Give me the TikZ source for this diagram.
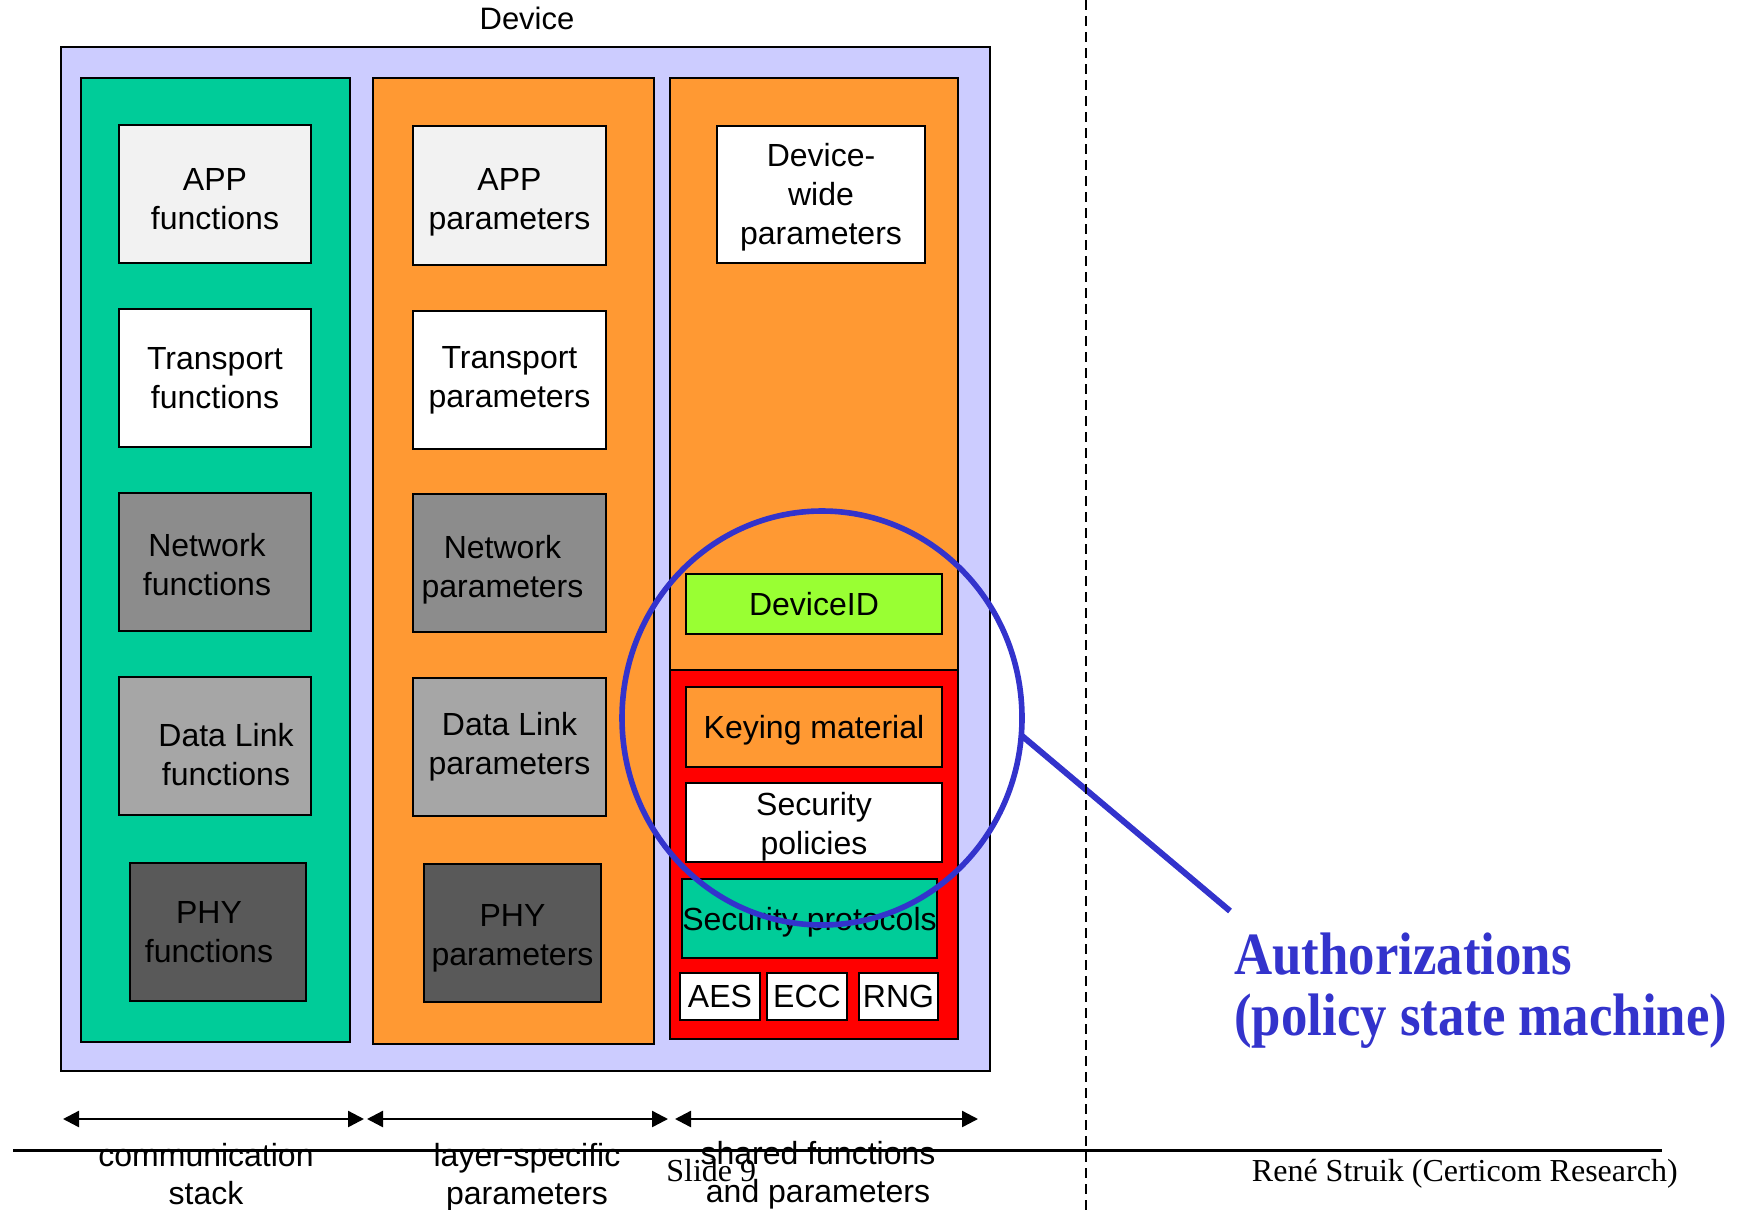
\documentclass[tikz,border=0pt]{standalone}
\usepackage{fontspec}
\setmainfont{Liberation Sans}
\newfontfamily\slidefont{Liberation Serif}
\newfontfamily\notefont[FakeStretch=0.88]{Liberation Serif}
\usetikzlibrary{arrows.meta}

\definecolor{devlav}{HTML}{CCCCFF}
\definecolor{stackgreen}{HTML}{00CC99}
\definecolor{parorange}{HTML}{FF9933}
\definecolor{idgreen}{HTML}{99FF33}
\definecolor{secred}{HTML}{FF0000}
\definecolor{ringblue}{HTML}{3333CC}
\definecolor{appgray}{HTML}{F2F2F2}
\definecolor{netgray}{HTML}{8C8C8C}
\definecolor{linkgray}{HTML}{A6A6A6}
\definecolor{phygray}{HTML}{595959}

% taller first line, so the text sits lower in its box
\newcommand\dropby[1]{\rule{0pt}{\dimexpr 12pt+#1\relax}}

\begin{document}
\begin{tikzpicture}[x=0.5pt, y=-0.5pt,
    blk/.style={draw, line width=1pt, inner sep=0pt, align=center,
        font=\fontsize{16}{19.5}\selectfont},
    col/.style={draw, line width=1pt, inner sep=0pt},
    spanarrow/.style={{Triangle[length=8pt,width=8pt]}-{Triangle[length=8pt,width=8pt]}, line width=1.2pt},
    lbl/.style={align=center, inner sep=0pt, anchor=north,
        font=\fontsize{16}{19}\selectfont}]
    \useasboundingbox (0,0) rectangle (1746,1210);

    % device and its three columns
    \node[col, fill=devlav, minimum width=464.5pt, minimum height=512pt] (dev) at (525.5,559) {};
    \node[anchor=base, inner sep=0pt, font=\fontsize{15.5}{19}\selectfont] (devtitle) at (527,29) {Device};
    \node[col, fill=stackgreen, minimum width=134.5pt, minimum height=482pt] (stackcol) at (215.5,560) {};
    \node[col, fill=parorange, minimum width=140.5pt, minimum height=483pt] (parcol) at (513.5,561) {};
    \node[col, fill=parorange, minimum width=144pt, minimum height=480.5pt] (sharedcol) at (814,558.5) {};
    \node[col, fill=secred, minimum width=144pt, minimum height=184.5pt] (seccol) at (814,854.5) {};

    % communication stack
    \node[blk, fill=appgray, minimum width=96pt, minimum height=69pt] (appfn) at (215,194) {\dropby{4.4pt}APP\\functions};
    \node[blk, fill=white, minimum width=96pt, minimum height=69pt] (trfn) at (215,378) {Transport\\functions};
    \node[blk, fill=netgray, minimum width=96pt, minimum height=69pt] (netfn) at (215,562) {\dropby{2.2pt}Network\hspace*{8pt}\\functions\hspace*{8pt}};
    \node[blk, fill=linkgray, minimum width=96pt, minimum height=69pt] (dlfn) at (215,746) {\dropby{7.8pt}\hspace*{11pt}Data Link\\\hspace*{11pt}functions};
    \node[blk, fill=phygray, minimum width=88pt, minimum height=69pt] (phyfn) at (218,932) {PHY\hspace*{9pt}\\functions\hspace*{9pt}};

    % layer-specific parameters
    \node[blk, fill=appgray, minimum width=96.5pt, minimum height=69.5pt] (apppar) at (509.5,195.5) {\dropby{5.6pt}APP\\parameters};
    \node[blk, fill=white, minimum width=96.5pt, minimum height=69pt] (trpar) at (509.5,380) {Transport\\parameters};
    \node[blk, fill=netgray, minimum width=96.5pt, minimum height=69pt] (netpar) at (509.5,563) {\dropby{6.6pt}Network\hspace*{7pt}\\parameters\hspace*{7pt}};
    \node[blk, fill=linkgray, minimum width=96.5pt, minimum height=69pt] (dlpar) at (509.5,747) {Data Link\\parameters};
    \node[blk, fill=phygray, minimum width=88.5pt, minimum height=69pt] (phypar) at (512.5,933) {\dropby{4.4pt}PHY\\parameters};

    % shared functions and parameters
    \node[blk, fill=white, minimum width=104pt, minimum height=68.5pt] (devwide) at (821,194.5) {\dropby{2.8pt}Device-\\wide\\parameters};
    \node[blk, fill=idgreen, minimum width=128pt, minimum height=30pt] (devid) at (814,604) {DeviceID};
    \node[blk, fill=parorange, minimum width=128pt, minimum height=40pt] (keymat) at (814,727) {\dropby{2.4pt}Keying material};
    \node[blk, fill=white, minimum width=128pt, minimum height=39.5pt] (secpol) at (814,822.5) {\dropby{4pt}Security\\policies};
    \node[blk, fill=stackgreen, minimum width=127.5pt, minimum height=39.5pt] (secprot) at (809.5,918.5) {\dropby{3.4pt}Security protocols};
    \node[blk, fill=white, minimum width=40pt, minimum height=23.5pt] (aes) at (720,996.5) {AES};
    \node[blk, fill=white, minimum width=40pt, minimum height=23.5pt] (ecc) at (807,996.5) {ECC};
    \node[blk, fill=white, minimum width=39.5pt, minimum height=23.5pt] (rng) at (898.5,996.5) {RNG};

    % authorizations ring and its note
    \coordinate (ringc) at (822,718);
    \coordinate (ringedge) at (1021,735);
    \coordinate (notetip) at (1230,911);
    \draw[ringblue, line width=2.8pt] (ringc) ellipse [x radius=200, y radius=207];
    \draw[ringblue, line width=3pt] (ringedge) -- (notetip);
    \node[anchor=north west, inner sep=0pt, align=left, text=ringblue,
        font=\notefont\bfseries\fontsize{30}{30.5}\selectfont] (authnote) at (1234,932)
        {Authorizations\\(policy state machine)};

    % spans under the columns
    \coordinate (s0) at (63,1119);
    \coordinate (s1) at (364,1119);
    \coordinate (s2) at (367,1119);
    \coordinate (s3) at (668,1119);
    \coordinate (s4) at (675,1119);
    \coordinate (s5) at (978,1119);
    \draw[spanarrow] (s0) -- (s1);
    \draw[spanarrow] (s2) -- (s3);
    \draw[spanarrow] (s4) -- (s5);
    \node[lbl] (stacklbl) at (206,1143) {communication\\stack};
    \node[lbl] (parlbl) at (527,1143) {layer-specific\\parameters};
    \node[lbl] (sharedlbl) at (818,1141) {shared functions\\and parameters};

    % slide footer
    \coordinate (fl) at (13,1150);
    \coordinate (fr) at (1662,1150);
    \draw[line width=1.5pt] (fl) -- (fr);
    \node[anchor=base west, inner sep=0pt, font=\slidefont\fontsize{16}{19}\selectfont] (slideno) at (666,1181) {Slide 9};
    \node[anchor=base east, inner sep=0pt, font=\slidefont\fontsize{16}{19}\selectfont] (author) at (1678,1181) {René Struik (Certicom Research)};

    \coordinate (dtop) at (1086,0);
    \coordinate (dbot) at (1086,1210);
    \draw[line width=1pt, dash pattern=on 5pt off 3pt] (dtop) -- (dbot);
\end{tikzpicture}
\end{document}
